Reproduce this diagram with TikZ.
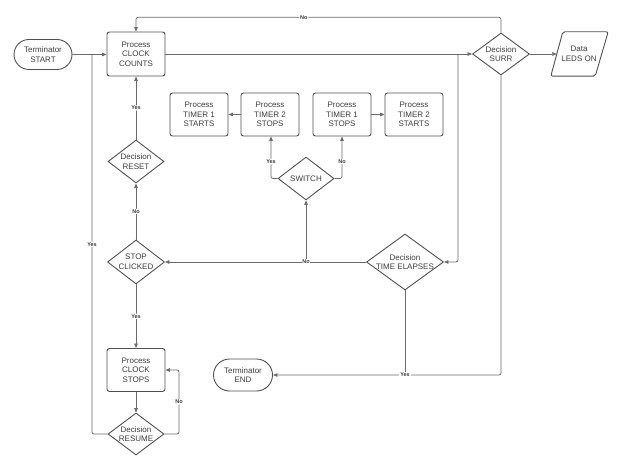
\documentclass[tikz,border=0pt]{standalone}
\usepackage{fontspec}
\setmainfont{Liberation Sans}
\usetikzlibrary{arrows.meta,shapes.geometric,shapes.misc}
\definecolor{edgec}{HTML}{6A6A6A}
\definecolor{bord}{HTML}{505050}
\definecolor{txtc}{HTML}{3C3C3C}
\tikzset{
  base/.style={draw=bord, line width=0.9pt, text=txtc, font=\fontsize{8}{9.6}\selectfont, align=center, inner sep=0pt},
  proc/.style={base, rectangle, rounded corners=2.5pt, minimum width=58pt, minimum height=43pt},
  term/.style={base, rounded rectangle, minimum width=58pt, minimum height=30pt},
  dec/.style 2 args={base, diamond, minimum width=#1pt, minimum height=#2pt},
  dtext/.style={text=txtc, font=\fontsize{8}{9.6}\selectfont, align=center, inner sep=0pt},
  line/.style={draw=edgec, line width=0.75pt, rounded corners=2pt},
  arr/.style={line, -{Triangle[length=4.5pt,width=3.6pt]}},
  lab/.style={fill=white, inner sep=0.8pt, text=txtc, font=\bfseries\fontsize{5.5}{6}\selectfont}
}
\begin{document}
\begin{tikzpicture}[x=1pt,y=-1pt]
\path[use as bounding box] (0,0) rectangle (623,470);

% nodes
\node[term] (start) at (43,54.5) {Terminator\\START};
\node[proc, minimum height=44pt] (cc) at (136,54) {Process\\CLOCK\\COUNTS};
\node[dec={57}{42}] (surr) at (501,54) {};
\node[dtext] at (surr) {Decision\\SURR};
\node[dtext, minimum width=44pt, minimum height=44pt] (data) at (579,54) {Data\\LEDS ON};
\draw[draw=bord, line width=0.9pt, rounded corners=2pt]
  ([xshift=6pt]data.north west) -- ([xshift=7pt]data.north east)
  -- ([xshift=-6pt]data.south east) -- ([xshift=-6pt]data.south west) -- cycle;

\node[proc] (t1st) at (199,114.5) {Process\\TIMER 1\\STARTS};
\node[proc] (t2sp) at (270,114.5) {Process\\TIMER 2\\STOPS};
\node[proc] (t1sp) at (342,114.5) {Process\\TIMER 1\\STOPS};
\node[proc] (t2st) at (414,114.5) {Process\\TIMER 2\\STARTS};

\node[dec={56}{43}] (reset) at (136,161.5) {};
\node[dtext] at (reset) {Decision\\RESET};
\node[dec={56}{43}] (sw) at (306,178.5) {};
\node[dtext] at (sw) {SWITCH};
\node[dec={57}{44}] (sc) at (136,262) {};
\node[dtext] at (sc) {STOP\\CLICKED};
\node[dec={77}{56}] (te) at (405,262) {};
\node[dtext] at (te) {Decision\\TIME ELAPSES};

\node[term, minimum width=59pt, minimum height=32pt] (end) at (243,375) {Terminator\\END};
\node[proc] (cstop) at (136,370) {Process\\CLOCK\\STOPS};
\node[dec={56}{42}] (resume) at (136,434) {};
\node[dtext] at (resume) {Decision\\RESUME};

\coordinate (jstart) at (92,54.5);
\coordinate (jb) at (458,54);

% connectors
\draw[arr] (start) -- (cc.west |- start.east);
\draw[line] (resume.west) -| (jstart) node[lab, pos=0.75] {Yes};
\draw[arr] (surr.north) -- (501,17.3) -| (cc.north) node[lab, pos=0.27] {No};
\draw[arr] (cc.east) -- (surr.west);
\draw[arr] (jb) |- (te.east);
\draw[arr] (surr.east) -- (data.west);
\draw[arr] (surr.south) |- (end.east);
\draw[line] (te.south) -- (te.south |- end.east);
\node[lab] at (te.south |- end.east) {Yes};
\draw[arr] (te.west) -- (sc.east);
\draw[arr] (te.west -| sw.south) -- (sw.south);
\node[lab] at (te.west -| sw.south) {No};
\draw[arr] (sw.west) -| ([xshift=1pt]t2sp.south) node[lab, pos=0.7] {Yes};
\draw[arr] (sw.east) -| (t1sp.south) node[lab, pos=0.7] {No};
\draw[arr] (t2sp.west) -- (t1st.east);
\draw[arr] (t1sp.east) -- (t2st.west);
\draw[arr] (reset.north) -- node[lab] {Yes} (cc.south);
\draw[arr] (sc.north) -- node[lab] {No} (reset.south);
\draw[arr] (sc.south) -- node[lab] {Yes} (cstop.north);
\draw[arr] (cstop.south) -- (resume.north);
\draw[arr] (resume.east) -- (179,434) |- node[lab, pos=0.25] {No} (cstop.east);
\end{tikzpicture}
\end{document}
